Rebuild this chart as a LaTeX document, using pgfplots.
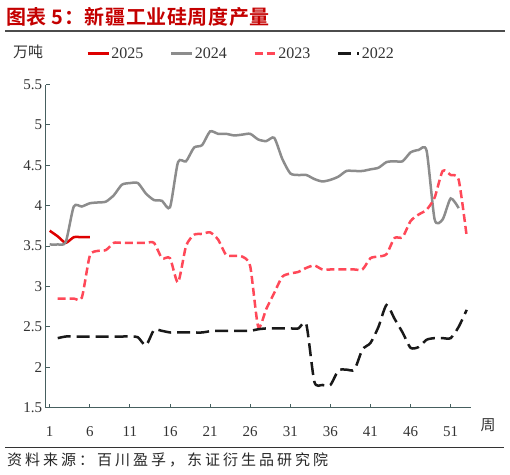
\documentclass[border=0pt]{standalone}
\usepackage{fontspec}
\setmainfont{Liberation Serif}
\newfontfamily\cjk{Noto Sans CJK SC}[BoldFont={Noto Sans CJK SC Bold}]
\newfontfamily\cjktitle{Noto Sans CJK SC Bold}[LetterSpace=3]
\newfontfamily\cjksrc{Noto Sans CJK SC}[LetterSpace=20]
\usepackage{pgfplots}
\pgfplotsset{compat=1.18}
\definecolor{titlered}{RGB}{196,0,0}
\definecolor{c25}{RGB}{222,0,0}
\definecolor{c24}{RGB}{140,140,140}
\definecolor{c23}{RGB}{255,72,88}
\definecolor{c22}{RGB}{25,25,25}
\definecolor{axcol}{RGB}{70,95,95}
\begin{document}
\begin{tikzpicture}[x=1bp,y=1bp]
\useasboundingbox (0,0) rectangle (510,475);
\node[anchor=west, inner sep=0pt, text=titlered, font=\cjktitle\fontsize{20bp}{24bp}\selectfont] at (6,458.5) {图表 5：新疆工业硅周度产量};
\draw[line width=1.2bp, color=black!70] (5,444) -- (505,444);
\node[anchor=west, inner sep=0pt, text=black!80, font=\cjk\fontsize{15bp}{18bp}\selectfont] at (13,423.3) {万吨};
\draw[line width=1bp, color=black!80] (5,27.3) -- (504,27.3);
\node[anchor=west, inner sep=0pt, text=black!85, font=\cjksrc\fontsize{15bp}{18bp}\selectfont] at (7,15) {资料来源：百川盈孚，东证衍生品研究院};
\node[inner sep=0pt, text=black!80, font=\cjk\fontsize{15bp}{18bp}\selectfont] at (488,50) {周};
\begin{axis}[
  at={(57,83.5)}, anchor=south west,
  scale only axis, width=425bp, height=323bp,
  xmin=0.5, xmax=53.5, ymin=1.5, ymax=5.5,
  axis x line*=bottom, axis y line*=left,
  axis line style={color=axcol, line width=1bp},
  xtick={1,6,11,16,21,26,31,36,41,46,51},
  ytick={1.5,2,2.5,3,3.5,4,4.5,5,5.5},
  yticklabels={1.5,2,2.5,3,3.5,4,4.5,5,5.5},
  tick align=inside, major tick length=4bp,
  tick style={color=axcol, line width=1bp},
  /pgf/number format/assume math mode=true,
  ticklabel style={font=\fontsize{15bp}{18bp}\selectfont, text=black!80},
  xticklabel style={yshift=-15.5bp},
  legend style={at={(0.095,1.096)}, anchor=west, draw=none, fill=none,
    inner sep=0pt, font=\fontsize{16bp}{19bp}\selectfont, text=black!80,
    nodes={inner sep=1.5bp},
    /tikz/every even column/.append style={column sep=25bp}},
  legend columns=4,
  legend image code/.code={\draw[#1] (0bp,0bp) -- (21bp,0bp);},
  every axis plot/.append style={line width=2.5bp, smooth, tension=0.4},
]
\addplot[c25, no markers] coordinates {
(1,3.69) (2,3.62) (3,3.54) (4,3.61) (5,3.61) (6,3.61)};
\addlegendentry{2025}
\addplot[c24, no markers] coordinates {
(1,3.52) (2,3.52) (3,3.55) (4,3.99) (5,3.99) (6,4.03) (7,4.04) (8,4.05) (9,4.13) (10,4.26)
(11,4.28) (12,4.28) (13,4.15) (14,4.07) (15,4.06) (16,3.98) (17,4.54) (18,4.55) (19,4.72) (20,4.75)
(21,4.92) (22,4.89) (23,4.89) (24,4.87) (25,4.88) (26,4.89) (27,4.82) (28,4.80) (29,4.84) (30,4.58)
(31,4.40) (32,4.38) (33,4.38) (34,4.33) (35,4.30) (36,4.32) (37,4.36) (38,4.43) (39,4.43) (40,4.43)
(41,4.45) (42,4.47) (43,4.54) (44,4.55) (45,4.55) (46,4.66) (47,4.69) (48,4.68) (49,3.83) (50,3.83)
(51,4.09) (52,3.97)};
\addlegendentry{2024}
\addplot[c23, no markers, dash pattern=on 8bp off 4bp] coordinates {
(2,2.85) (3,2.85) (4,2.85) (5,2.86) (6,3.38) (7,3.44) (8,3.45) (9,3.54) (10,3.54)
(11,3.54) (12,3.54) (13,3.54) (14,3.54) (15,3.35) (16,3.35) (17,3.05) (18,3.50) (19,3.64) (20,3.65)
(21,3.67) (22,3.58) (23,3.39) (24,3.38) (25,3.37) (26,3.25) (27,2.50) (28,2.72) (29,2.92) (30,3.12)
(31,3.16) (32,3.18) (33,3.23) (34,3.26) (35,3.21) (36,3.21) (37,3.21) (38,3.21) (39,3.21) (40,3.21)
(41,3.35) (42,3.37) (43,3.40) (44,3.60) (45,3.61) (46,3.81) (47,3.89) (48,3.95) (49,4.10) (50,4.43)
(51,4.38) (52,4.32) (53,3.62)};
\addlegendentry{2023}
\addplot[c22, no markers, dash pattern=on 13bp off 6bp] coordinates {
(2,2.36) (3,2.38) (4,2.38) (5,2.38) (6,2.38) (7,2.38) (8,2.38) (9,2.38) (10,2.38)
(11,2.38) (12,2.37) (13,2.27) (14,2.46) (15,2.45) (16,2.43) (17,2.43) (18,2.43) (19,2.43) (20,2.43)
(21,2.445) (22,2.45) (23,2.45) (24,2.45) (25,2.45) (26,2.45) (27,2.47) (28,2.48) (29,2.48) (30,2.48)
(31,2.48) (32,2.48) (33,2.53) (34,1.82) (35,1.78) (36,1.78) (37,1.96) (38,1.97) (39,1.97) (40,2.22)
(41,2.30) (42,2.50) (43,2.77) (44,2.60) (45,2.43) (46,2.24) (47,2.25) (48,2.34) (49,2.36) (50,2.36)
(51,2.36) (52,2.50) (53,2.71)};
\addlegendentry{2022}
\end{axis}
\end{tikzpicture}
\end{document}
